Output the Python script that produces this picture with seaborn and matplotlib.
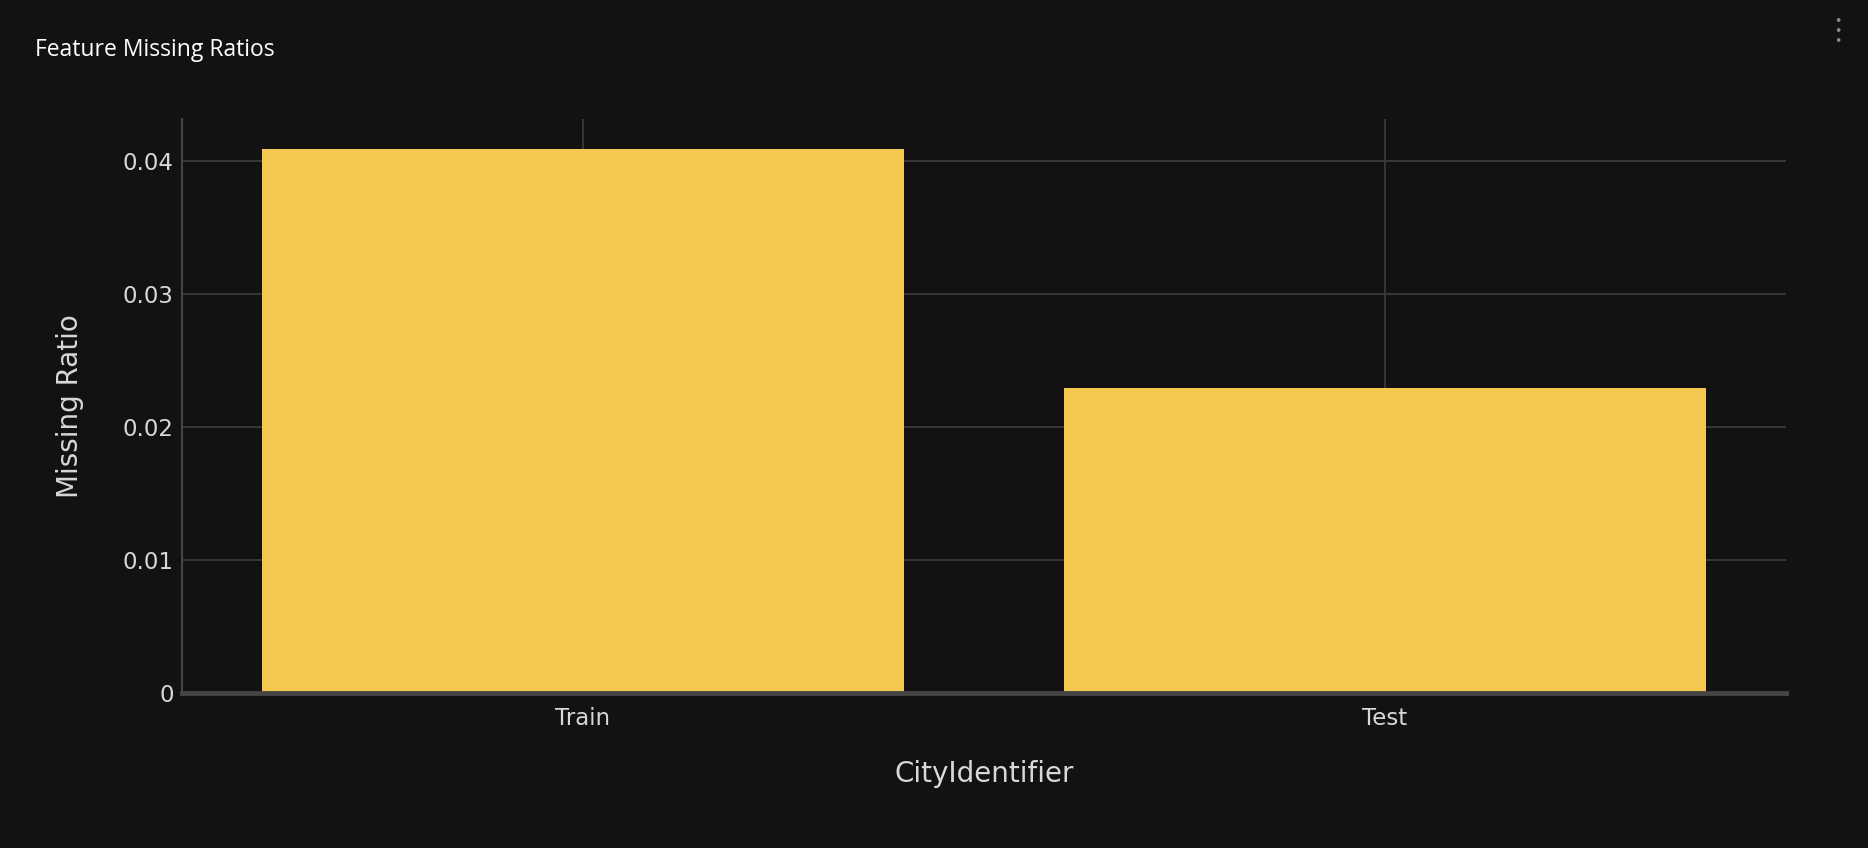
import matplotlib
matplotlib.use("Agg")
import matplotlib.pyplot as plt
import seaborn as sns
import pandas as pd

categories = ["Train", "Test"]
missing_ratio = [0.0409, 0.0229]
y_ticks = [0, 0.01, 0.02, 0.03, 0.04]
y_tick_labels = ["0", "0.01", "0.02", "0.03", "0.04"]

BG = "#121212"
BAR = "#F5C951"
GRID = "#3a3a3a"
AXIS = "#454545"
TXT = "#d8d8d8"

sns.set_theme(style="dark")
plt.rcParams['font.family'] = ['DejaVu Sans']

df = pd.DataFrame({"CityIdentifier": categories, "Missing Ratio": missing_ratio})

fig = plt.figure(figsize=(18.68, 8.48), dpi=100, facecolor=BG)
ax = fig.add_axes([0.0974, 0.1828, 0.9561 - 0.0974, 0.8597 - 0.1828])
ax.set_facecolor(BG)

sns.barplot(data=df, x="CityIdentifier", y="Missing Ratio", color=BAR,
            saturation=1, width=0.8, ax=ax, zorder=3, edgecolor="none")

ax.set_xlim(-0.5, 1.5)
ax.set_ylim(0, 0.04313)
ax.set_yticks(y_ticks)
ax.set_yticklabels(y_tick_labels)

ax.grid(True, axis="both", color=GRID, linewidth=1.3, zorder=0)
ax.set_axisbelow(True)

for s in ["top", "right"]:
    ax.spines[s].set_visible(False)
ax.spines["left"].set_color(AXIS)
ax.spines["left"].set_linewidth(1.5)
ax.spines["left"].set_zorder(4)
ax.spines["bottom"].set_color(AXIS)
ax.spines["bottom"].set_linewidth(3.5)
ax.spines["bottom"].set_zorder(4)

ax.tick_params(axis="both", length=0, labelsize=16.5, labelcolor=TXT)
ax.tick_params(axis="y", pad=6)
ax.tick_params(axis="x", pad=10)

ax.set_xlabel("CityIdentifier", fontsize=20, color=TXT, labelpad=22)
ax.set_ylabel("Missing Ratio", fontsize=20, color=TXT, labelpad=28)

fig.text(35 / 1868, 1 - 50 / 848, "Feature Missing Ratios", fontsize=16.5,
         color="#ffffff", family=["Open Sans", "DejaVu Sans"], va="center", ha="left")

# menu dots top-right
for yy in (21, 32, 42):
    fig.text(1838 / 1868, 1 - yy / 848, "\u2022", fontsize=9, color="#8a8a8a",
             ha="center", va="center")

fig.savefig("out.png", dpi=100, facecolor=BG)
